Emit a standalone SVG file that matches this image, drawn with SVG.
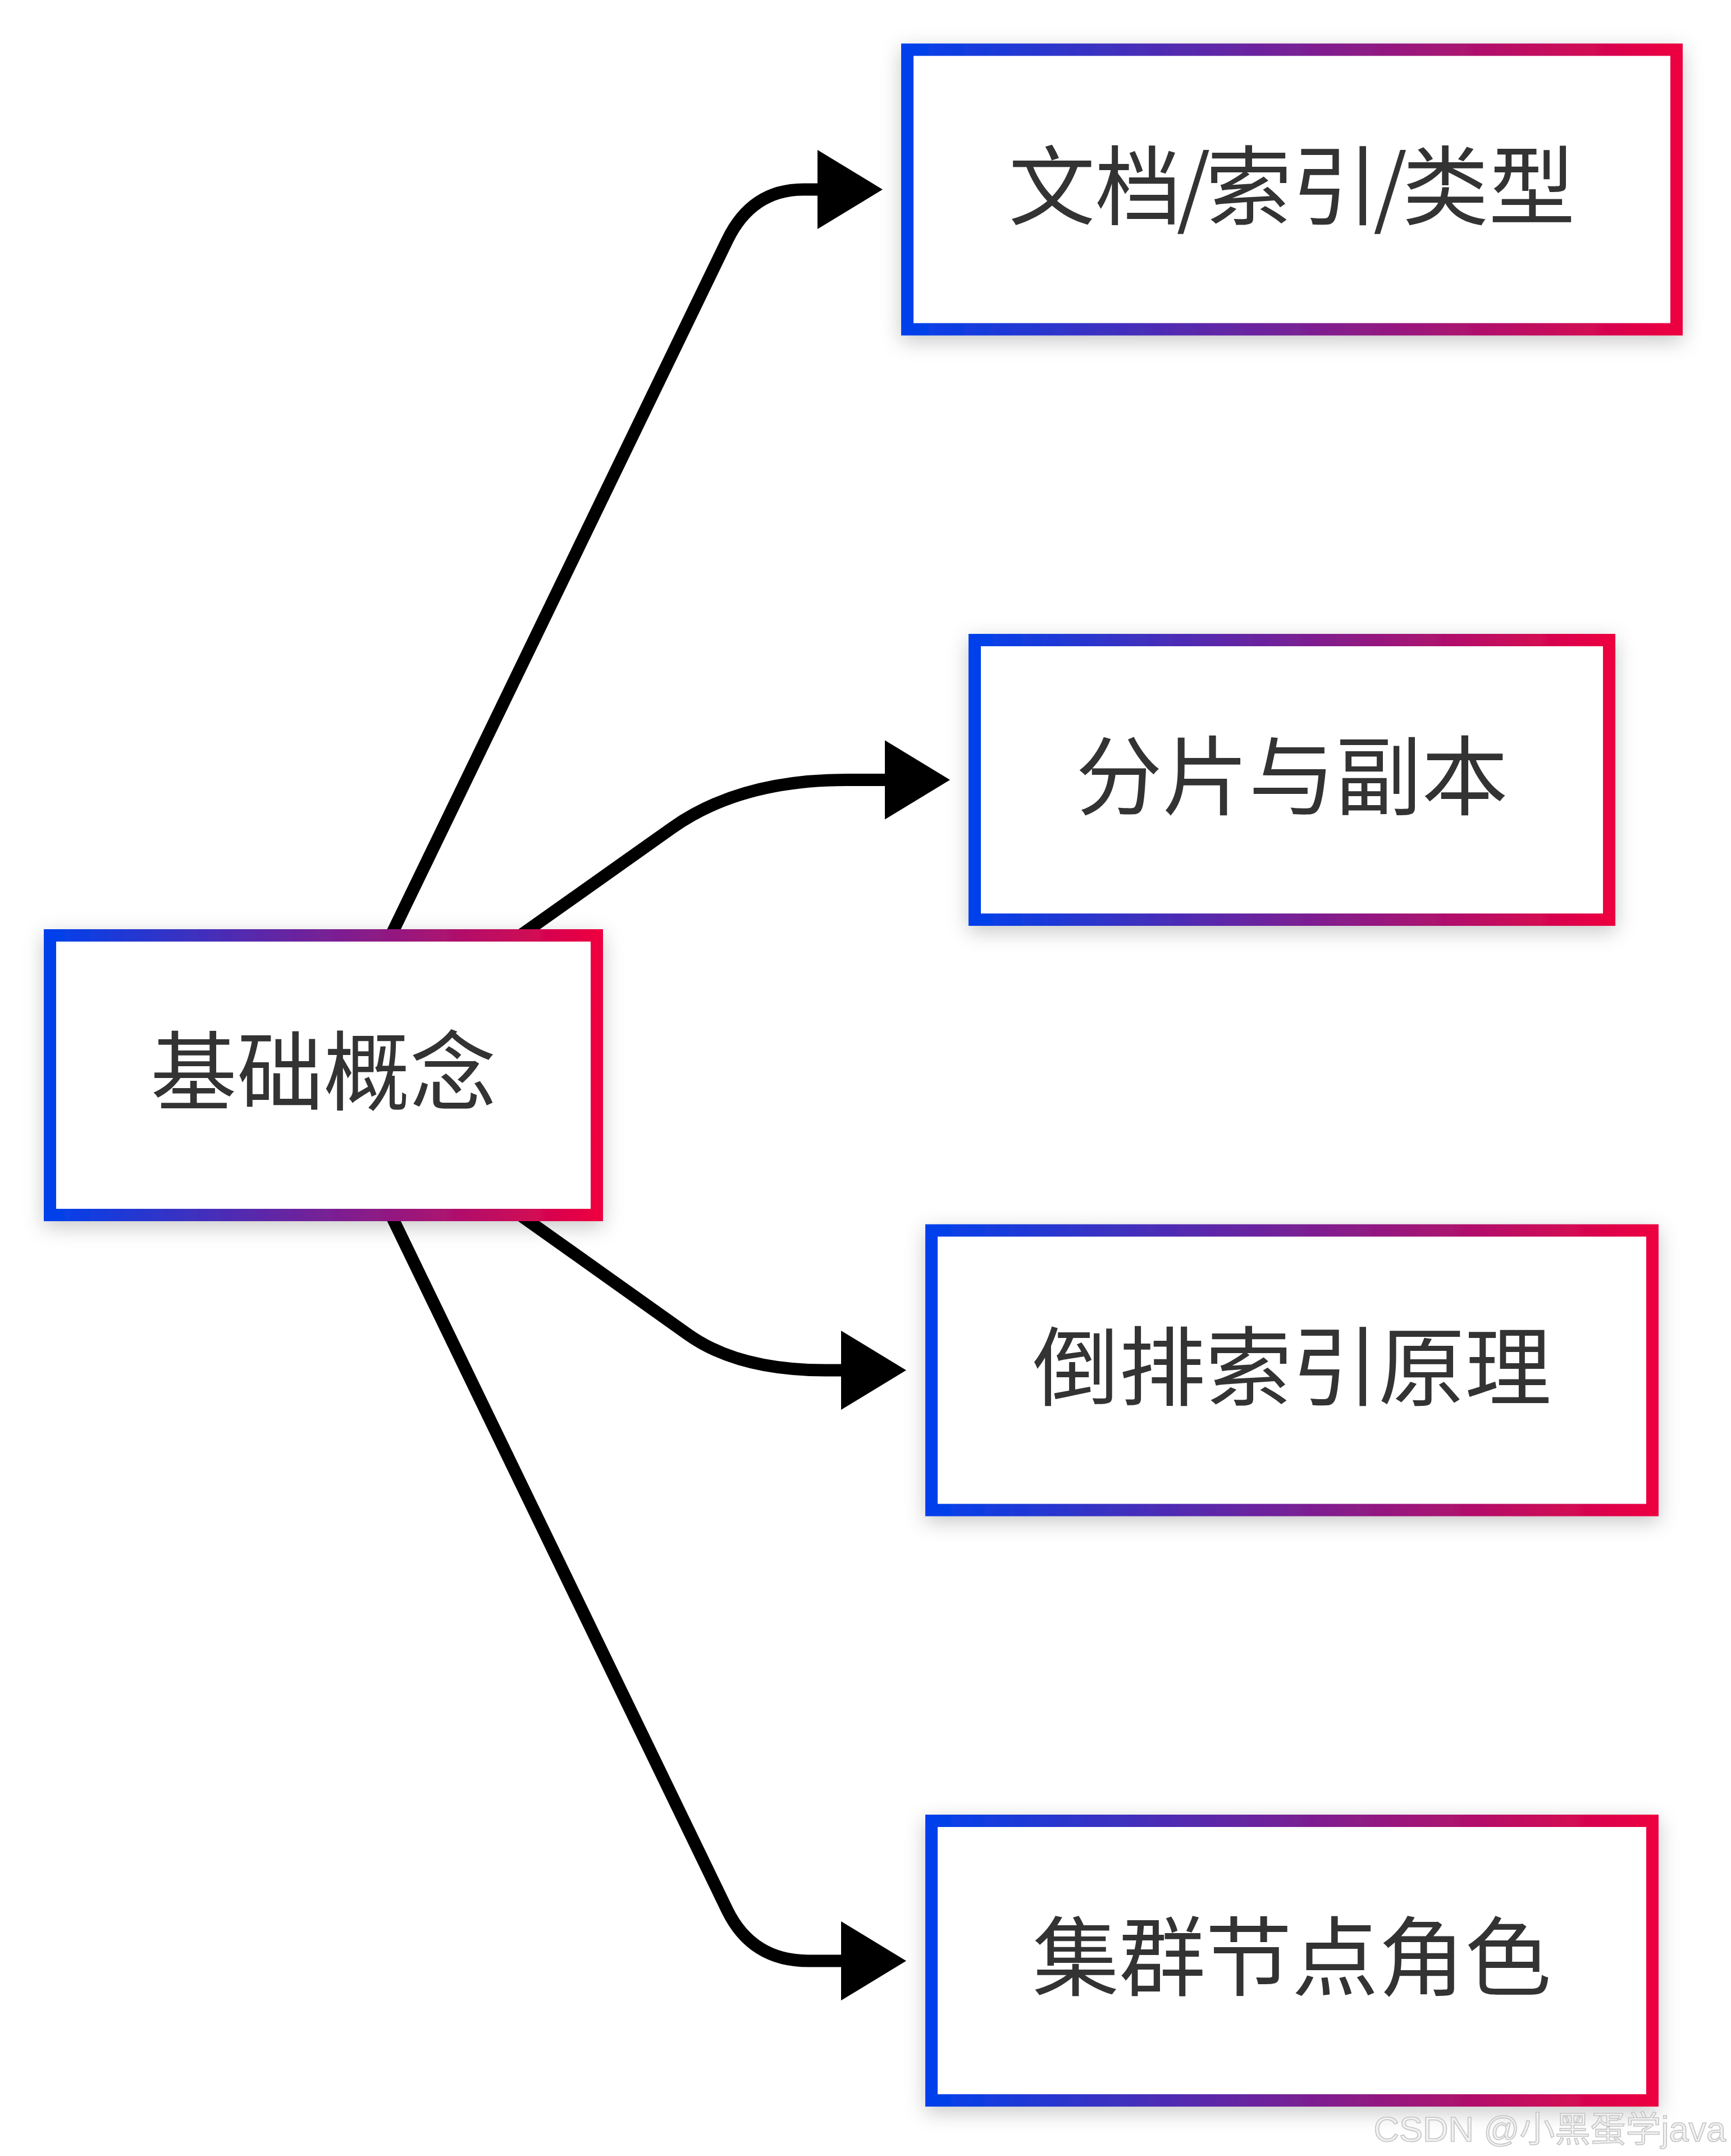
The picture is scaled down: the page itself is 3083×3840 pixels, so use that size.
<svg xmlns="http://www.w3.org/2000/svg" width="3083" height="3840" viewBox="0 0 3083 3840">
  <style>
    .box { fill: #ffffff; stroke: url(#grad); stroke-width: 22; filter: url(#shadow); }
    .label { font-family: "Noto Sans CJK SC", "Noto Sans", sans-serif; font-size: 154px; fill: #333333; text-anchor: middle; }
    .edge { fill: none; stroke: #000000; stroke-width: 22; marker-end: url(#arrow); }
    .wm { font-family: "Liberation Sans", "Noto Sans CJK SC", sans-serif; font-size: 63px; fill: #f2f2f2; stroke: #c4c4c4; stroke-width: 1.6; text-anchor: end; }
  </style>
  <defs>
    <linearGradient id="grad" x1="0" y1="0" x2="1" y2="0">
      <stop offset="0" stop-color="#0041ec"/>
      <stop offset="1" stop-color="#ec0040"/>
    </linearGradient>
    <filter id="shadow" x="-10%" y="-20%" width="120%" height="145%">
      <feDropShadow dx="0" dy="10" stdDeviation="18" flood-color="#000000" flood-opacity="0.22"/>
    </filter>
    <marker id="arrow" markerUnits="userSpaceOnUse" viewBox="0 0 116 141" markerWidth="116" markerHeight="141" refX="1" refY="70.5" orient="auto" overflow="visible">
      <path d="M0,0 L116,70.5 L0,141 Z" fill="#000000"/>
    </marker>
  </defs>
  <rect x="0" y="0" width="3083" height="3840" fill="#ffffff"/>

  <g id="connectors">
    <path class="edge" d="M576,1915 L1295.5,427.5 Q1339,337.5 1431,337.5 L1457,337.5"/>
    <path class="edge" d="M576,1915 L1197,1474.6 Q1317.7,1389 1507.7,1389 L1577,1389"/>
    <path class="edge" d="M576,1915 L1225.3,2376.7 Q1314.9,2440.5 1469.9,2440.5 L1499,2440.5"/>
    <path class="edge" d="M576,1915 L1295,3401.6 Q1339,3492.5 1440,3492.5 L1499,3492.5"/>
  </g>

  <g id="node-root">
    <rect class="box" x="89" y="1666" width="974" height="498"/>
    <text class="label" x="576" y="1966">基础概念</text>
  </g>
  <g id="node-doc">
    <rect class="box" x="1616" y="88.5" width="1370" height="498"/>
    <text class="label" x="2301" y="388.5" dx="0 0 -9 -9 0 -9 -9 0">文档/索引/类型</text>
  </g>
  <g id="node-shard">
    <rect class="box" x="1736" y="1140" width="1130" height="498"/>
    <text class="label" x="2301" y="1440">分片与副本</text>
  </g>
  <g id="node-inverted">
    <rect class="box" x="1659" y="2191.5" width="1284" height="498"/>
    <text class="label" x="2301" y="2491.5">倒排索引原理</text>
  </g>
  <g id="node-cluster">
    <rect class="box" x="1659" y="3243" width="1284" height="498"/>
    <text class="label" x="2301" y="3543">集群节点角色</text>
  </g>

  <text class="wm" x="3074" y="3814">CSDN @小黑蛋学java</text>
</svg>
